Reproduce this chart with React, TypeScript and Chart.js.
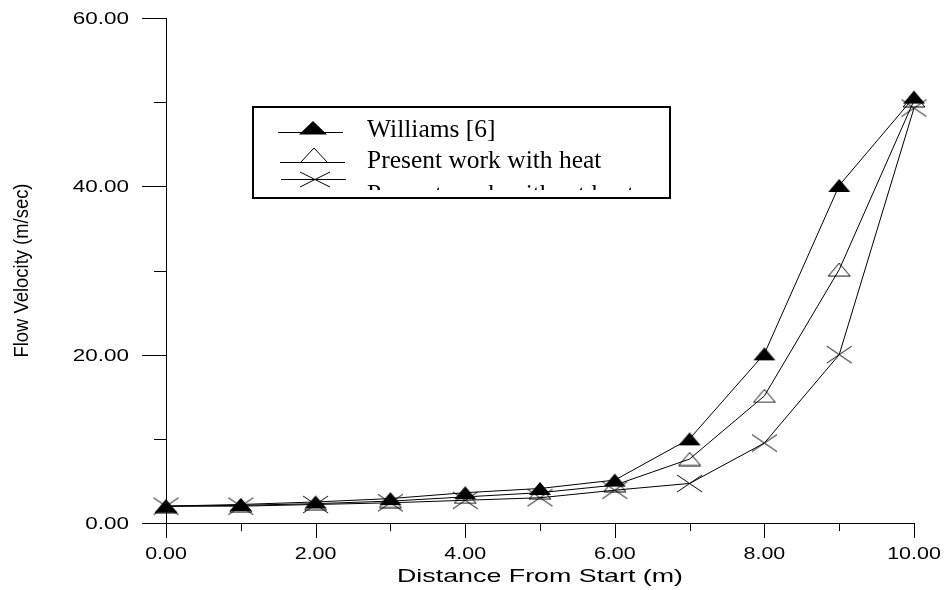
import React, { useEffect, useRef } from "react";
import { Chart, registerables } from "chart.js";

Chart.register(...registerables);

// ---- data ----
const distances = [0, 1, 2, 3, 4, 5, 6, 7, 8, 9, 10];
const williams = [2.0, 2.2, 2.5, 2.9, 3.6, 4.1, 5.1, 10.0, 20.1, 40.1, 50.6];
const withHeat = [2.0, 2.1, 2.3, 2.6, 3.1, 3.6, 4.5, 7.6, 15.1, 30.1, 50.2];
const withoutHeat = [2.0, 2.0, 2.2, 2.4, 2.7, 3.0, 3.9, 4.7, 9.5, 20.0, 49.3];
const seriesNames = ["Williams [6]", "Present work with heat", "Present work without heat"];
const xTickLabels = ["0.00", "2.00", "4.00", "6.00", "8.00", "10.00"];
const yTickLabels = ["0.00", "20.00", "40.00", "60.00"];
const xTitle = "Distance From Start (m)";
const yTitle = "Flow Velocity (m/sec)";

function makeMarker(kind: string, w: number, h: number): HTMLCanvasElement {
  const c = document.createElement("canvas");
  c.width = w + 2;
  c.height = h + 2;
  const g = c.getContext("2d")!;
  g.strokeStyle = "#000";
  g.fillStyle = "#000";
  g.lineWidth = 1;
  g.beginPath();
  if (kind === "cross") {
    g.moveTo(1, 1);
    g.lineTo(w + 1, h + 1);
    g.moveTo(1, h + 1);
    g.lineTo(w + 1, 1);
    g.stroke();
  } else {
    g.moveTo((w + 2) / 2, 1);
    g.lineTo(w + 1, h + 1);
    g.lineTo(1, h + 1);
    g.closePath();
    if (kind === "filled") g.fill();
    else g.stroke();
  }
  return c;
}

function stretchedText(
  ctx: CanvasRenderingContext2D,
  text: string,
  x: number,
  y: number,
  font: string,
  sx: number,
  align: CanvasTextAlign,
  baseline: CanvasTextBaseline = "alphabetic"
) {
  ctx.save();
  ctx.font = font;
  ctx.textAlign = align;
  ctx.textBaseline = baseline;
  ctx.translate(x, y);
  ctx.scale(sx, 1);
  ctx.fillText(text, 0, 0);
  ctx.restore();
}

const decorPlugin = {
  id: "decor",
  afterDraw(chart: any) {
    const { ctx, chartArea: a } = chart;
    const xs = chart.scales.x;
    const ys = chart.scales.y;
    const cr = (v: number) => Math.round(v) + 0.5;
    ctx.save();
    ctx.strokeStyle = "#000";
    ctx.fillStyle = "#000";
    ctx.lineWidth = 1;

    // axis lines
    ctx.beginPath();
    ctx.moveTo(cr(a.left), a.top);
    ctx.lineTo(cr(a.left), a.bottom);
    ctx.moveTo(a.left, cr(a.bottom));
    ctx.lineTo(a.right, cr(a.bottom));
    ctx.stroke();

    const xMajor = xTickLabels.map(Number);
    const yMajor = yTickLabels.map(Number);

    // x ticks
    ctx.beginPath();
    xs.ticks.forEach((t: any) => {
      const px = cr(xs.getPixelForValue(t.value));
      const len = xMajor.includes(t.value) ? 15 : 8;
      ctx.moveTo(px, a.bottom);
      ctx.lineTo(px, a.bottom + len);
    });
    // y ticks
    ys.ticks.forEach((t: any) => {
      const py = cr(ys.getPixelForValue(t.value));
      const len = yMajor.includes(t.value) ? 24 : 12;
      ctx.moveTo(a.left, py);
      ctx.lineTo(a.left - len, py);
    });
    ctx.stroke();

    // tick labels
    const tickFont = '16.5px "Liberation Sans", Arial, sans-serif';
    xTickLabels.forEach((lab) => {
      const px = xs.getPixelForValue(Number(lab));
      stretchedText(ctx, lab, px, 559, tickFont, 1.3, "center");
    });
    yTickLabels.forEach((lab) => {
      const py = ys.getPixelForValue(Number(lab));
      stretchedText(ctx, lab, 129, py + 6, tickFont, 1.36, "right");
    });

    // x title
    const xFont = '19px "Liberation Sans", Arial, sans-serif';
    ctx.font = xFont;
    const xw = ctx.measureText(xTitle).width;
    stretchedText(ctx, xTitle, (a.left + a.right) / 2, 582, xFont, 286 / xw, "center");

    // y title (rotated)
    const yFont = '18px "Liberation Sans", Arial, sans-serif';
    ctx.font = yFont;
    const yw = ctx.measureText(yTitle).width;
    ctx.save();
    ctx.translate(23, (a.top + a.bottom) / 2);
    ctx.rotate(-Math.PI / 2);
    ctx.scale(174 / yw, 1.1);
    ctx.font = yFont;
    ctx.textAlign = "center";
    ctx.textBaseline = "middle";
    ctx.fillText(yTitle, 0, 0);
    ctx.restore();

    // legend box
    ctx.lineWidth = 2;
    ctx.strokeRect(253, 107, 417, 91);
    ctx.lineWidth = 1;

    // legend symbols
    const rows = [
      { ly: 132, x0: 278, x1: 343 },
      { ly: 162, x0: 280, x1: 345 },
      { ly: 179, x0: 281, x1: 346 },
    ];
    ctx.beginPath();
    rows.forEach((r) => {
      ctx.moveTo(r.x0, r.ly + 0.5);
      ctx.lineTo(r.x1, r.ly + 0.5);
    });
    ctx.stroke();
    // filled triangle
    ctx.beginPath();
    ctx.moveTo(313, 121);
    ctx.lineTo(327, 134.5);
    ctx.lineTo(299, 134.5);
    ctx.closePath();
    ctx.fill();
    // open triangle
    ctx.beginPath();
    ctx.moveTo(314, 148);
    ctx.lineTo(327.5, 162.5);
    ctx.lineTo(300.5, 162.5);
    ctx.closePath();
    ctx.stroke();
    // cross
    ctx.beginPath();
    ctx.moveTo(300, 172);
    ctx.lineTo(330, 187);
    ctx.moveTo(300, 187);
    ctx.lineTo(330, 172);
    ctx.stroke();

    // legend text, clipped
    ctx.save();
    ctx.beginPath();
    ctx.rect(254, 108, 415, 82);
    ctx.clip();
    ctx.font = '25.5px "Liberation Serif", "Times New Roman", serif';
    ctx.textAlign = "left";
    ctx.textBaseline = "alphabetic";
    const baselines = [137, 167.5, 202];
    seriesNames.forEach((n, i) => ctx.fillText(n, 367, baselines[i]));
    ctx.restore();

    ctx.restore();
  },
};

export default function App() {
  const ref = useRef<HTMLCanvasElement | null>(null);

  useEffect(() => {
    if (!ref.current) return;
    const filled = makeMarker("filled", 22, 13);
    const open = makeMarker("open", 22, 13);
    const cross = makeMarker("cross", 25, 17);
    const mk = (vals: number[]) => distances.map((x, i) => ({ x, y: vals[i] }));
    const base = {
      showLine: true,
      borderColor: "#000",
      backgroundColor: "#000",
      borderWidth: 1,
      pointRadius: 6,
      pointHoverRadius: 6,
      tension: 0,
      clip: false as any,
    };
    const chart = new Chart(ref.current, {
      type: "scatter",
      data: {
        datasets: [
          { ...base, label: seriesNames[0], data: mk(williams), pointStyle: filled as any },
          { ...base, label: seriesNames[1], data: mk(withHeat), pointStyle: open as any },
          { ...base, label: seriesNames[2], data: mk(withoutHeat), pointStyle: cross as any },
        ],
      },
      options: {
        animation: false,
        responsive: false,
        devicePixelRatio: 1,
        layout: { padding: { top: 18, right: 32, left: 0, bottom: 0 } },
        plugins: { legend: { display: false }, tooltip: { enabled: false } },
        events: [],
        scales: {
          x: {
            type: "linear",
            min: 0,
            max: 10,
            ticks: { display: false, stepSize: 1 },
            grid: { display: false },
            border: { display: false },
            afterFit: (s: any) => {
              s.height = 67;
            },
          },
          y: {
            type: "linear",
            min: 0,
            max: 60,
            ticks: { display: false, stepSize: 10 },
            grid: { display: false },
            border: { display: false },
            afterFit: (s: any) => {
              s.width = 166;
            },
          },
        },
      },
      plugins: [decorPlugin],
    });
    return () => chart.destroy();
  }, []);

  return (
    <div style={{ position: "fixed", left: 0, top: 0, width: 946, height: 590, background: "#fff" }}>
      <canvas ref={ref} width={946} height={590} style={{ display: "block" }} />
    </div>
  );
}
